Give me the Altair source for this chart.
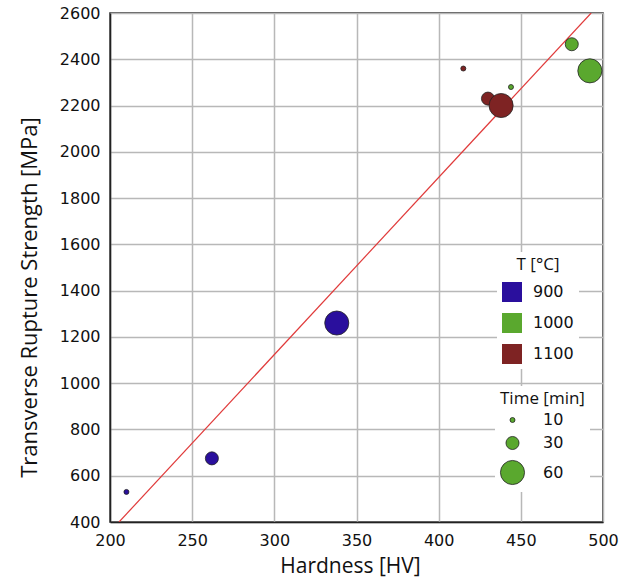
import altair as alt
import pandas as pd

# data
hardness = [210, 262, 338, 415, 444, 430, 438, 481, 492]
strength = [530, 675, 1260, 2360, 2280, 2230, 2200, 2465, 2350]
temp = ["900", "900", "900", "1100", "1000", "1100", "1100", "1000", "1000"]
time_min = [10, 30, 60, 10, 10, 30, 60, 30, 60]

fit_x = [205.5, 492.8]
fit_y = [400, 2600]

temp_levels = ["900", "1000", "1100"]
temp_colors = ["#2a0f9d", "#5aa82e", "#7e2323"]
time_levels = [10, 30, 60]

x_ticks = [200, 250, 300, 350, 400, 450, 500]
y_ticks = [400, 600, 800, 1000, 1200, 1400, 1600, 1800, 2000, 2200, 2400, 2600]

pts = pd.DataFrame({"H": hardness, "TRS": strength, "T": temp, "t": time_min})
fit = pd.DataFrame({"H": fit_x, "TRS": fit_y})

tick_font = "DejaVu Sans"
title_font = "Open Sans"

xscale = alt.Scale(domain=[200, 500], nice=False, zero=False)
yscale = alt.Scale(domain=[400, 2600], nice=False, zero=False)

xaxis = alt.Axis(title="Hardness [HV]", values=x_ticks, format="d", ticks=False, labelPadding=10,
                 labelFont=tick_font, labelFontSize=16, labelColor="#111",
                 titleFont=title_font, titleFontSize=21, titleFontWeight="normal",
                 titleColor="#111", titlePadding=7, titleX=240, gridColor="#b8b8b8", gridWidth=1.5,
                 domainColor="#222", domainWidth=1.5, labelFlush=False)
yaxis = alt.Axis(title="Transverse Rupture Strength [MPa]", values=y_ticks, format="d", ticks=False,
                 labelPadding=10, labelFont=tick_font, labelFontSize=16, labelColor="#111",
                 titleFont=title_font, titleFontSize=22, titleFontWeight="normal",
                 titleColor="#111", titlePadding=18, titleY=284, gridColor="#b8b8b8", gridWidth=1.5,
                 domainColor="#222", domainWidth=1.5, labelFlush=False)

line = alt.Chart(fit).mark_line(color="#e03a3a", strokeWidth=1.2, clip=True).encode(
    x=alt.X("H:Q", scale=xscale, axis=xaxis),
    y=alt.Y("TRS:Q", scale=yscale, axis=yaxis),
)

points = alt.Chart(pts).mark_circle(opacity=1, stroke="#222", strokeWidth=0.8).encode(
    x=alt.X("H:Q", scale=xscale, axis=xaxis),
    y=alt.Y("TRS:Q", scale=yscale, axis=yaxis),
    color=alt.Color("T:N", scale=alt.Scale(domain=temp_levels, range=temp_colors),
                    legend=alt.Legend(title="T [°C]", orient="none", legendX=387, legendY=239,
                                      symbolType="square", symbolSize=400,
                                      symbolStrokeWidth=0, symbolOpacity=1,
                                      titleFont=title_font, titleFontSize=17,
                                      titleFontWeight="normal", titleColor="#111",
                                      titleAnchor="middle", titlePadding=8,
                                      labelFont=tick_font, labelFontSize=16, labelColor="#111",
                                      labelOffset=11, rowPadding=11, padding=5,
                                      fillColor="white")),
    size=alt.Size("t:Q", scale=alt.Scale(domain=[10, 30, 60], range=[25, 170, 580]),
                  legend=alt.Legend(title="Time [min]", orient="none", legendX=385, legendY=373,
                                    values=time_levels, symbolFillColor="#5aa82e",
                                    symbolStrokeColor="#222", symbolStrokeWidth=0.8,
                                    symbolOpacity=1,
                                    titleFont=title_font, titleFontSize=17,
                                    titleFontWeight="normal", titleColor="#111",
                                    titlePadding=4,
                                    labelFont=tick_font, labelFontSize=16, labelColor="#111",
                                    labelOffset=18, rowPadding=6, padding=5,
                                    fillColor="white")),
    order=alt.Order("t:Q"),
)

chart = alt.layer(line, points).properties(
    width=493, height=509,
    autosize=alt.AutoSizeParams(type="none"),
    padding={"left": 110, "top": 13, "right": 29, "bottom": 63},
    background="white",
).configure_view(stroke="#222", strokeWidth=1.5)

chart.save("out.html", embed_options={"renderer": "svg", "actions": False})
